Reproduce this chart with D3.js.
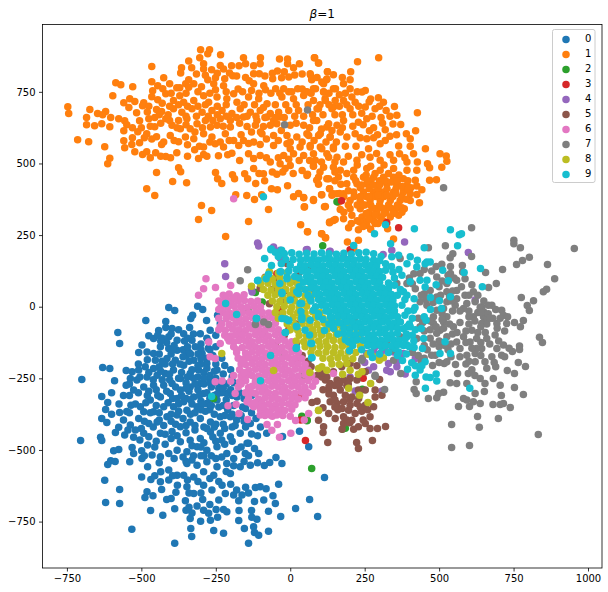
<!DOCTYPE html>
<html>
<head>
<meta charset="utf-8">
<script src="https://cdnjs.cloudflare.com/ajax/libs/d3/7.8.5/d3.min.js"></script>
<style>
  html, body { margin: 0; padding: 0; background: #fff; }
  svg { display: block; }
  text { font-family: "DejaVu Sans", sans-serif; fill: #000; }
</style>
</head>
<body>
<div id="chart"></div>
<script>
// values, one list per digit class
var labels = ["0","1","2","3","4","5","6","7","8","9"];
var colors = ["#1f77b4","#ff7f0e","#2ca02c","#d62728","#9467bd","#8c564b","#e377c2","#7f7f7f","#bcbd22","#17becf"];
var xTicks = [-750,-500,-250,0,250,500,750,1000];
var yTicks = [-750,-500,-250,0,250,500,750];

var points0 = [[-408,-3],[-388,-13],[-485,-48],[-311,2],[-294,-10],[-328,-30],[-334,-41],[-281,-48],[-244,-30],[-418,-52],[-338,-73],[-579,-90],[-573,-128],[-475,-101],[-442,-83],[-418,-73],[-397,-76],[-375,-80],[-358,-94],[-459,-111],[-498,-134],[-509,-160],[-481,-158],[-436,-140],[-408,-105],[-380,-117],[-330,-117],[-302,-94],[-269,-82],[-235,-59],[-319,-140],[-296,-163],[-408,-146],[-380,-152],[-459,-163],[-453,-187],[-414,-181],[-386,-187],[-487,-210],[-459,-216],[-630,-212],[-606,-216],[-590,-258],[-700,-254],[-551,-223],[-531,-227],[-509,-221],[-537,-251],[-551,-274],[-515,-256],[-481,-245],[-447,-239],[-420,-233],[-392,-221],[-358,-204],[-324,-187],[-280,-198],[-246,-221],[-308,-221],[-336,-233],[-369,-251],[-397,-268],[-425,-274],[-459,-274],[-492,-280],[-526,-291],
[-633,-313],[-613,-334],[-620,-359],[-633,-390],[-616,-404],[-573,-369],[-549,-366],[-535,-344],[-503,-349],[-470,-326],[-436,-315],[-403,-303],[-369,-291],[-336,-280],[-302,-268],[-268,-256],[-291,-303],[-324,-315],[-358,-332],[-392,-349],[-425,-349],[-459,-367],[-492,-367],[-509,-390],[-537,-413],[-576,-421],[-587,-439],[-556,-448],[-526,-456],[-492,-442],[-475,-408],[-447,-402],[-414,-384],[-380,-378],[-347,-361],[-313,-349],[-280,-338],[-246,-326],[-213,-303],[-179,-315],[-235,-384],[-268,-402],[-302,-390],[-336,-402],[-369,-419],[-397,-436],[-436,-442],[-475,-454],[-479,-483],[-499,-503],[-531,-491],[-526,-512],[-539,-541],[-576,-498],[-593,-503],[-637,-456],[-633,-467],[-704,-467],[-603,-538],[-613,-551],[-588,-540],
[-498,-530],[-464,-518],[-436,-524],[-408,-512],[-380,-501],[-347,-506],[-313,-489],[-280,-501],[-246,-489],[-213,-512],[-179,-498],[-145,-477],[-168,-442],[-201,-454],[-235,-442],[-268,-437],[-302,-460],[-336,-466],[-369,-471],[-130,-444],[-79,-442],[-106,-512],[-151,-512],[-134,-408],[-201,-384],[-140,-477],
[-479,-559],[-499,-594],[-468,-603],[-435,-576],[-408,-570],[-436,-611],[-408,-605],[-380,-588],[-358,-588],[-347,-547],[-313,-553],[-280,-541],[-246,-559],[-213,-547],[-201,-582],[-168,-559],[-134,-553],[-257,-588],[-291,-576],[-324,-594],[-623,-606],[-573,-638],[-620,-683],[-573,-687],[-481,-646],[-488,-666],[-461,-660],[-432,-638],[-384,-648],[-379,-623],[-347,-628],[-291,-623],[-263,-640],[-229,-623],[-218,-652],[-190,-657],[-162,-657],[-173,-677],[-117,-631],[-101,-628],[-81,-635],[-39,-620],[-58,-660],[-89,-675],[-50,-687],
[-415,-673],[-400,-669],[-352,-677],[-324,-652],[-294,-673],[-469,-711],[-428,-728],[-388,-705],[-350,-710],[-313,-696],[-291,-710],[-274,-721],[-249,-708],[-224,-708],[-213,-716],[-172,-711],[-130,-711],[-73,-714],[-32,-732],[-112,-742],[-129,-735],[-173,-746],[-244,-735],[-268,-745],[-301,-749],[-336,-739],[-532,-777],[-334,-774],[-257,-781],[-154,-774],[-123,-768],[-120,-788],[-73,-784],[-224,-791],[-331,-802],[-106,-798],[-388,-826],[-140,-826],[18,-704],[65,-673],[92,-732],[115,-596],[-28,-547],[-48,-526],[-69,-544],[-87,-554],[31,-435],[62,-489],[-26,-453],
[-330,-220],[-310,-245],[-290,-230],[-270,-240],[-250,-250],[-230,-260],[-290,-270],[-265,-280],[-240,-285],[-215,-270],[-200,-290],[-350,-265],[-320,-270],[-340,-295],[-310,-290],[-280,-300],[-255,-310],[-230,-300],[-380,-320],[-350,-320],[-200,-220],[-220,-205],[-250,-200],[-230,-180],[-260,-170],[-280,-180],[-250,-140],[-275,-120],[-300,-200],[-350,-170],[-365,-230],[-300,-330],[-270,-360],[-240,-350],[-210,-360],[-190,-345],[-160,-350],[-165,-380],[-130,-370],[-100,-420],[-255,-420],[-225,-410],[-195,-420],[-320,-370],[-285,-365],[-400,-400],[-360,-390],[-440,-370],[-490,-400],[-450,-290],[-480,-310],[-420,-200],[-440,-210],[-360,-150],[-340,-160],[-300,-130],[-345,-110],[-300,-490],[-325,-520],[-350,-540],[-290,-520],[-265,-520],[-230,-525],[-190,-530],[-140,-520],[-450,-470],[-420,-480],[-400,-460],[-350,-440],[-320,-430],[-290,-420],[-250,-470],[-220,-480],
[-430,-110],[-400,-95],[-355,-120],[-325,-95],[-280,-110],[-250,-100],[-415,-125],[-390,-135],[-345,-140],[-300,-150],[-275,-145],[-440,-165],[-400,-165],[-360,-175],[-335,-165],[-310,-165],[-270,-150],[-480,-185],[-430,-190],[-395,-200],[-370,-200],[-340,-190],[-300,-180],[-475,-230],[-435,-225],[-405,-235],[-375,-250],[-345,-245],[-310,-205],[-280,-215],[-255,-225],[-225,-235],[-195,-245],[-505,-245],[-460,-255],[-430,-255],[-405,-255],[-385,-280],[-350,-285],[-325,-250],[-290,-250],[-270,-265],[-245,-265],[-225,-285],[-190,-265],
[-510,-300],[-475,-295],[-445,-310],[-415,-295],[-395,-320],[-365,-310],[-335,-325],[-305,-310],[-270,-320],[-245,-305],[-215,-325],[-195,-310],[-170,-300],[-155,-320],[-130,-310],[-110,-330],[-520,-340],[-485,-335],[-450,-345],[-410,-335],[-375,-340],[-330,-340],[-295,-340],[-265,-345],[-225,-345],[-195,-375],[-150,-355],[-540,-370],[-470,-370],[-440,-395],[-400,-375],[-375,-365],[-335,-375],[-300,-360],[-255,-375],[-220,-380],[-180,-395],[-155,-400],[-115,-390],
[-500,-425],[-460,-420],[-425,-415],[-385,-410],[-350,-415],[-320,-415],[-280,-425],[-250,-410],[-220,-425],[-185,-415],[-150,-420],[-110,-450],[-505,-465],[-455,-490],[-420,-445],[-380,-450],[-330,-485],[-290,-475],[-260,-455],[-230,-465],[-195,-470],[-165,-490],[-120,-495],[-490,-520],[-440,-545],[-390,-530],[-360,-525],[-330,-535],[-300,-520],[-250,-530],[-215,-575],[-190,-555],[-155,-540],[-110,-545],[-455,-590],[-395,-590],[-345,-605],[-310,-610],[-270,-600],[-240,-610],[-200,-620],[-180,-640],[-150,-630],[-140,-650],[-120,-680],[-300,-650],[-270,-690],[-240,-675],[-340,-700],[-330,-720],[-340,-650],[-600,-300],[-575,-340],[-560,-310],[-540,-310],[-600,-375],[-560,-395],[-545,-430],[-520,-430],[-540,-270],[-510,-200],[-435,-120],[-395,-150],[-445,-100]];

var points1 = [[-747,698],[-744,674],[-714,583],[-677,576],[-623,558],[-606,518],[-613,499],[-673,688],[-647,674],[-620,681],[-630,670],[-684,660],[-684,635],[-657,632],[-633,639],[-606,628],[-603,660],[-576,656],[-596,736],[-586,782],[-569,775],[-529,768],[-559,712],[-539,726],[-522,716],[-542,695],[-516,677],[-492,712],[-496,701],[-465,838],[-465,785],[-425,799],[-405,778],[-445,771],[-462,754],[-428,761],[-465,733],[-445,722],[-418,743],[-449,688],[-432,681],[-475,656],[-455,660],[-418,656],[-506,649],[-556,649],[-549,635],[-559,614],[-512,611],[-559,579],[-556,555],[-532,566],[-522,541],[-496,531],[-482,541],[-452,537],[-506,572],[-482,604],[-455,628],[-449,593],[-432,566],[-418,524],[-402,520],[-381,537],[-375,485],[-368,471],[-449,468],[-395,437],[-348,433],[-482,412],[-455,388],[-298,353],[-264,336],[-308,304],[-217,245],[-140,297],[-73,339],[-183,391],[-146,388],[-120,374],[-96,391],[35,286],[58,262],[105,255],[119,241],[132,293],[151,304],[48,349],[115,349],[78,374],[11,384],[28,395],[45,381],[105,391],[-63,412],[-43,408],[-9,422],[-116,430],[-251,468],[-244,447],[-230,430],[-194,461],[-187,447],[-153,464],[-143,447],[-90,464],[-86,440],[-241,527],[-308,517],[-291,531],[-321,548],[-375,576],
[-301,897],[-271,897],[-277,883],[-304,869],[-234,879],[-341,858],[-365,834],[-331,834],[-368,816],[-157,869],[-100,869],[-36,865],[-9,865],[82,869],[95,851],[31,848],[-9,848],[11,834],[-291,848],[-291,830],[-264,827],[-235,842],[-224,830],[-197,841],[-172,841],[-150,848],[-123,841],[-101,848],[-104,813],[-43,823],[15,809],[-5,802],[-59,796],[-29,799],[68,809],[72,792],[125,820],[122,792],[112,778],[-204,816],[-193,806],[-220,796],[-251,799],[-277,792],[-123,813],[-138,789],[-123,778],[-341,792],[-351,778],[-324,778],[-341,766],[-298,768],[-381,764],[-371,764],[-257,778],[-251,757],[-224,771],[-160,750],[-190,743],[-89,771],[-83,757],[-49,761],[-22,761],[25,761],[-5,750],[56,750],[85,761],[112,750],[152,761],
[-371,736],[-392,720],[-358,714],[-324,720],[-291,736],[-274,714],[-246,732],[-213,726],[-179,714],[-140,732],[-106,726],[-78,708],[-28,732],[11,726],[45,737],[78,720],[117,726],[151,720],[-392,691],[-364,679],[-330,691],[-296,679],[-263,685],[-229,685],[-196,674],[-168,691],[-134,679],[-101,685],[-67,674],[-39,679],[-5,685],[28,685],[95,691],[140,691],[-375,650],[-347,656],[-313,639],[-285,650],[-235,656],[-201,650],[-157,662],[-112,650],[-78,662],[-56,650],[-34,662],[45,633],[89,650],[123,627],[157,633],[-397,633],[-369,621],[-336,621],[-268,627],[-246,633],[-201,627],[-145,629],[-117,633],[-90,629],[-67,633],[-45,639],[0,633],
[-403,598],[-352,592],[-324,586],[-291,604],[-263,592],[-218,604],[-190,580],[-157,580],[-123,575],[-95,604],[-56,598],[-11,598],[22,592],[56,604],[95,598],[134,592],[-291,557],[-252,569],[-224,557],[-173,563],[-101,566],[-56,563],[-11,569],[0,551],[33,557],[67,563],[101,557],[145,551],[-196,536],[-140,534],[-101,528],[-123,517],[-22,528],[11,534],[45,528],[78,534],[123,534],[157,522],[-67,505],[-34,499],[0,493],[-123,482],[78,490],[112,487],[145,487],[-17,482],[56,458],[89,441],[123,447],[162,453],[-45,462],[95,427],[132,412],[157,394],[140,389],
[81,869],[95,851],[226,855],[297,869],[125,820],[203,820],[67,813],[73,795],[106,784],[123,795],[179,778],[201,792],[50,749],[78,761],[112,749],[145,761],[201,761],[252,755],[241,749],[296,729],[207,732],[218,714],[118,720],[179,720],[313,714],[350,699],[285,691],[322,685],[252,697],[201,691],[145,697],[90,691],[358,668],[427,677],[257,656],[229,644],[179,650],[129,639],[78,650],[345,638],[371,636],[266,614],[319,618],[421,614],[390,604],[357,600],[293,600],[218,604],[168,610],[134,592],[101,604],[62,598],[403,586],[319,580],[257,586],[190,592],[364,561],[403,560],[454,551],[221,560],[302,569],[263,551],[145,557],[106,551],[67,557],[414,534],[367,534],[503,534],[524,526],[526,508],[509,487],[461,499],[468,485],[427,505],[392,505],[347,511],[302,511],[268,522],[224,511],[179,505],[129,522],[84,511],[78,491],
[425,476],[392,476],[347,482],[302,476],[257,482],[213,476],[168,476],[58,462],[95,452],[129,447],[170,427],[213,452],[246,452],[280,452],[313,452],[347,452],[380,447],[420,441],[468,441],[491,443],[425,421],[442,408],[392,423],[358,423],[324,429],[291,423],[257,429],[224,429],[190,429],[132,412],[106,391],[145,394],[179,394],[213,400],[246,400],[280,400],[313,400],[347,400],[380,400],[403,394],[425,392],[78,371],[45,380],[118,350],[162,365],[201,371],[235,371],[268,371],[302,371],[336,371],[369,371],[403,371],[434,363],[47,348],[168,339],[201,342],[235,342],[285,342],[319,342],[352,342],[383,342],[207,319],[179,307],[145,301],[132,296],[241,313],[274,313],[302,313],[336,313],[364,319],[196,276],[229,269],[257,284],[285,290],[311,301],[327,272],[106,255],[118,241],[58,262],[347,236],[192,226],[229,232],[213,203],
[255,460],[285,465],[330,465],[300,440],[270,440],[235,415],[265,412],[295,412],[325,412],[355,412],[255,385],[285,385],[315,385],[345,385],[375,385],[250,355],[270,355],[300,355],[330,355],[360,355],[265,330],[290,330],[320,330],[350,330],[255,300],[280,300],[235,295],[375,345],[390,375],
[-315,812],[-285,808],[-245,815],[-180,805],[-150,800],[-85,805],[-60,815],[-20,820],[40,812],[90,800],[145,810],[175,800],[-400,745],[-350,745],[-310,750],[-270,745],[-215,750],[-175,760],[-130,755],[-105,745],[-65,745],[-35,745],[5,750],[40,760],[70,745],[130,745],[165,740],[185,745],[225,750],[270,725],[-475,700],[-430,710],[-405,700],[-375,705],[-345,700],[-310,700],[-285,705],[-245,700],[-215,705],[-155,705],[-120,705],[-90,695],[-50,705],[-15,705],[20,705],[60,705],[100,705],[130,705],[165,700],[190,705],[230,700],[265,715],[300,700],
[-480,680],[-440,670],[-410,670],[-350,665],[-315,665],[-275,665],[-245,670],[-215,665],[-180,660],[-145,665],[-115,665],[-85,660],[-50,660],[-20,660],[15,665],[45,665],[75,670],[110,670],[150,670],[175,670],[210,670],[240,675],[275,665],[305,660],[335,665],[-530,625],[-500,625],[-470,630],[-435,640],[-405,650],[-380,625],[-350,635],[-320,610],[-295,625],[-260,650],[-225,630],[-170,640],[-130,610],[-100,610],[-30,615],[20,640],[65,625],[105,620],[140,615],[175,625],[210,630],[245,635],[280,625],[310,640],
[-530,590],[-490,590],[-465,585],[-425,575],[-390,580],[-345,565],[-305,560],[-270,575],[-235,575],[-205,580],[-165,600],[-140,570],[-80,585],[-40,580],[0,575],[40,575],[80,580],[120,575],[155,575],[185,560],[235,590],[280,590],[335,595],[-470,520],[-435,525],[-345,525],[-280,525],[-210,530],[-170,510],[-80,520],[-40,520],[-5,515],[30,510],[65,510],[105,505],[150,505],[195,525],[240,530],[290,535],[335,530],[385,520],[-105,465],[-60,470],[-25,470],[10,465],[40,475],[100,470],[150,470],[190,465],[225,495],[270,490],[315,495],[365,460],
[220,440],[240,425],[260,440],[280,425],[300,425],[320,440],[340,435],[360,440],[375,420],[395,440],[405,415],[215,385],[235,385],[265,385],[295,390],[325,390],[355,395],[395,410],[225,355],[245,355],[275,345],[305,345],[335,345],[365,345],[255,325],[285,320],[315,325],[345,325],[375,330],[265,305],[295,290],[320,295],[245,280],[270,270],[205,290],[225,300],[180,330],[195,355],[180,385],[195,405],[165,395],[150,440]];

var points2 = [[109,213],[157,366],[-257,-320],[72,-565],[56,-398],[39,-382],[-94,16],[-141,-16],[-117,50],[-47,-33],[-23,-162],[7,-148],[-90,-93],[242,-288],[185,-424],[40,-239],[176,-427],[57,-396]];

var points3 = [[172,370],[364,276],[324,293],[201,199],[179,173],[51,-467],[-45,115],[-30,-10],[20,-190],[60,-250],[30,-310],[175,-60],[215,-40],[-5,-80],[35,-395],[245,-250],[-95,-40]];

var points4 = [[-110,222],[-106,212],[-220,150],[-217,105],[-56,208],[-128,51],[-34,197],[-23,187],[-34,169],[57,200],[134,194],[178,173],[54,199],[132,193],[312,182],[341,197],[384,226],[598,189],[621,23],[336,-227],[324,-222],[386,-235],[369,-175],[302,-163],[280,-157],[280,-210],[263,-222],[218,-294],[308,-294],[420,-181],[252,-82],[274,-70],[347,-158],[319,-152],[380,-163],[201,-245],[302,-134],[330,-198],[358,-210],[358,-192],[285,-140],[324,-117],[257,-163],[-130,62],[250,-195]];

var points5 = [[118,-256],[106,-245],[134,-268],[157,-256],[179,-256],[201,-251],[224,-256],[129,-291],[145,-309],[168,-291],[185,-309],[207,-315],[229,-291],[252,-291],[285,-315],[308,-309],[285,-291],[300,-254],[134,-332],[157,-338],[179,-332],[201,-344],[224,-338],[252,-344],[280,-349],[174,-355],[196,-361],[218,-373],[179,-384],[207,-396],[268,-384],[252,-408],[179,-408],[174,-428],[213,-428],[229,-419],[268,-425],[293,-425],[320,-418],[129,-373],[151,-390],[95,-396],[112,-419],[110,-439],[73,-334],[90,-330],[110,-353],[126,-474],[223,-474],[276,-467],[229,-495],[101,-222],[123,-245],[145,-227],[173,-210],[201,-198],[224,-206],[252,-227],[-101,64],[-84,103],[-60,60],[-30,20],[10,30],[-70,10],[-40,-30],[20,-60],[-20,-100],[20,-130],[-50,-130],[40,-170],[-10,150],[30,120],[60,140],[10,90],[80,50],[70,-210],[90,-240],[150,-275],[190,-275],[230,-320],[160,-360],[240,-365],[110,-230],[60,-190],[-55,95],[-20,55],[130,-280],[165,-270],[195,-270],[150,-325],[200,-325],[235,-350],[260,-360],[190,-395],[245,-395],[150,-350],[200,-405],[130,-305],[110,-290]];

var points6 = [[-308,40],[-283,98],[-291,63],[-251,67],[-200,74],[-190,377],[-274,-123],[-235,-128],[-269,-175],[-252,-181],[-252,-262],[-229,-259],[-185,-303],[-209,-346],[-182,-341],[-172,-373],[-143,-394],[-78,-411],[-43,-411],[-62,-431],[-36,-456],[2,-442],[18,-397],[47,-395],[62,-373],[-28,-361],[-67,-378],[-101,-378],[-123,-349],[-145,-332],[145,-233],
[-225,40],[-205,44],[-180,38],[-155,42],[-240,20],[-220,22],[-198,18],[-176,20],[-154,22],[-132,18],[-110,20],[-232,0],[-210,-2],[-188,2],[-166,0],[-144,-2],[-122,2],[-100,0],[-225,-20],[-205,-22],[-183,-18],[-160,-20],[-138,-22],[-116,-18],[-94,-20],[-72,-22],[-240,-40],[-215,-42],[-194,-38],[-172,-40],[-150,-42],[-128,-38],[-106,-40],[-84,-42],[-62,-38],[-230,-60],[-205,-62],[-183,-58],[-161,-60],[-139,-62],[-117,-58],[-95,-60],[-73,-62],[-50,-58],[-240,-80],[-218,-82],[-194,-78],[-172,-80],[-150,-82],[-128,-78],[-106,-80],[-84,-82],[-62,-78],[-40,-80],[-220,-100],[-200,-102],[-183,-98],[-161,-100],[-139,-102],[-117,-98],[-95,-100],[-73,-102],[-50,-98],[-28,-100],[-205,-120],[-190,-122],[-172,-118],[-150,-120],[-128,-122],[-106,-118],[-84,-120],[-62,-122],[-40,-118],[-18,-120],[5,-122],[-190,-140],[-161,-142],[-139,-138],[-117,-140],[-95,-142],[-73,-138],[-50,-140],[-28,-142],[-6,-138],[16,-140],[-180,-160],[-150,-162],[-128,-158],[-106,-160],[-84,-162],[-62,-158],[-40,-160],[-18,-162],[5,-158],[27,-160],[-175,-180],[-155,-182],[-139,-178],[-117,-180],[-95,-182],[-73,-178],[-50,-180],[-28,-182],[-6,-178],[16,-180],[38,-182],[-165,-200],[-150,-202],[-128,-198],[-106,-200],[-84,-202],[-62,-198],[-40,-200],[-18,-202],[5,-198],[27,-200],[50,-202],[-170,-220],[-139,-222],[-117,-218],[-95,-220],[-73,-222],[-50,-218],[-28,-220],[-6,-222],[16,-218],[38,-220],[60,-222],[-190,-240],[-165,-242],[-145,-238],[-128,-240],[-106,-242],[-84,-238],[-62,-240],[-40,-242],[-18,-238],[5,-240],[27,-242],[50,-238],[72,-240],[-200,-260],[-170,-262],[-150,-258],[-117,-260],[-95,-262],[-73,-258],[-50,-260],[-28,-262],[-6,-258],[16,-260],[38,-262],[60,-258],[85,-260],[-175,-280],[-140,-282],[-128,-278],[-106,-280],[-84,-282],[-62,-278],[-40,-280],[-18,-282],[5,-278],[27,-280],[50,-282],[75,-278],[-150,-300],[-117,-302],[-95,-298],[-73,-300],[-50,-302],[-28,-298],[-6,-300],[16,-302],[38,-298],[60,-300],[-140,-320],[-106,-322],[-84,-318],[-62,-320],[-40,-322],[-18,-318],[5,-320],[27,-322],[50,-318],[-130,-340],[-110,-342],[-95,-338],[-73,-340],[-50,-342],[-28,-338],[-6,-340],[16,-342],[-100,-360],[-84,-362],[-62,-358],[-40,-360],[-18,-362],[5,-358],[-85,-380],[-60,-382],[-45,-378],[-25,-380],[0,-382],
[-215,30],[-190,30],[-165,30],[-240,-10],[-215,-30],[-235,-70],[-210,-110],[-180,-150],[-160,-190],[-155,-230],[-165,-270],[-130,-300],[-120,-335],[-90,-350],[-70,-370]];

var points7 = [[609,276],[521,213],[464,206],[546,185],[537,171],[609,175],[751,232],[751,220],[773,206],[954,203],[803,173],[780,161],[760,147],[864,147],[509,148],[538,140],[578,144],[656,119],[713,130],[538,116],[587,98],[610,77],[579,121],[692,81],[666,67],[888,98],[861,61],[850,52],[776,32],[817,21],[796,4],[803,-13],[837,-107],[847,-125],[783,-48],[753,-55],[773,-70],[770,-137],[770,-149],[746,-156],[766,-195],[790,-209],[729,-223],[753,-233],[753,-282],[783,-306],[709,-310],[739,-352],[699,-390],[681,-341],[705,-341],[716,-338],[629,-383],[542,-411],[635,-421],[833,-446],[542,-491],[602,-484],[565,-348],[602,-348],[582,-320],[593,-326],[638,-338],[615,-332],[621,-303],[652,-296],[705,-274],[682,-251],[654,-268],[638,-251],[598,-233],[562,-233],[537,-265],[559,-268],[593,-268],[515,-299],[498,-303],[492,-318],[464,-320],[423,-303],[416,-289],[423,-262],[371,-233],[478,-205],[555,-202],[517,-198],[526,-192],[487,-169],[570,-175],[593,-169],[621,-192],[654,-192],[677,-175],[710,-169],[716,-134],[694,-146],[643,-146],[621,-163],[626,-146],[604,-123],[582,-105],[559,-123],[570,-146],[526,-105],[548,-70],[503,-82],[626,-111],[660,-111],[688,-99],[610,-82],[694,-59],[727,-59],[710,-12],[716,-30],[649,-35],[643,0],[677,5],[615,-35],[582,-6],[554,5],[526,-35],[515,-53],[481,-59],[492,-93],[436,-70],[425,-111],[475,-169],[481,-35],[459,5],[436,17],[470,57],[492,34],[526,52],[559,57],[587,40],[615,52],[621,17],[593,11],[559,28],[526,17],[515,-6],[492,-12],[420,63],[436,116],[392,81],[358,81],[492,104],[526,81],[559,92],[369,168],[347,-152],[347,-187],[324,-128],[369,-105],[268,-117],[240,-187],[285,-239],[317,-289],[638,-3],[649,-18],[660,-47],[643,-59],[58,687],[-19,635],[-143,129],[-168,91],[515,415],[-117,-62],[-89,-53],[-73,-62],[242,-180],[285,-243],[245,-117],[500,70],[470,30],[450,45],[510,-25],[540,20],[600,-15],[630,-20],[665,-25],[660,-60],[680,-40],[640,-70],[600,-60],[570,-55],[545,-95],[510,-125],[470,-110],[450,-135],[500,-140],[530,-150],[590,-200],[610,-220],[660,-215],[690,-210],[620,-240],[440,-190],[410,-160],
[440,40],[455,25],[480,15],[505,40],[535,35],[545,55],[575,70],[600,40],[630,40],[650,20],[665,5],[690,-10],[705,-40],[730,-35],[670,-40],[695,-75],[720,-85],[640,-20],[620,-50],[600,-35],[570,-15],[545,-15],[510,-45],[490,-70],[470,-80],[445,-55],[430,-40],[450,-85],[470,-50],[515,-75],[535,-60],[560,-90],[590,-85],[630,-90],[655,-90],[670,-130],[700,-120],[640,-125],[610,-145],[590,-125],[540,-130],[520,-135],[500,-120],[480,-130],[460,-150],[430,-170],[450,-180],[500,-195],[540,-175],[600,-190],[640,-170],[685,-195],[720,-175],[735,-145],[400,100],[415,115],[450,130],[475,125],[490,140],[510,90],[530,110],[550,100],[410,80]];

var points8 = [[-230,-163],[-56,-223],[95,-362],[-130,71],[66,-230],[95,-216],[106,-210],[123,-222],[176,-236],[201,-222],[229,-236],[241,-227],[270,-268],[196,-285],[233,-309],[261,-334],[95,-361],[236,-138],[261,-166],[280,-175],[299,-187],[313,-178],[212,-99],
[-70,122],[-40,118],[-10,120],[-85,100],[-60,98],[-35,102],[-10,100],[15,98],[-100,80],[-75,82],[-50,78],[-25,80],[0,82],[25,78],[-90,60],[-65,58],[-40,62],[-15,60],[10,58],[35,62],[60,60],[-75,40],[-50,42],[-25,38],[0,40],[25,42],[50,38],[75,40],[-60,20],[-35,18],[-10,22],[15,20],[40,18],[65,22],[-45,0],[-20,2],[5,-2],[30,0],[55,2],[-50,-20],[-25,-22],[0,-18],[25,-20],[50,-22],[75,-18],[100,-20],[-40,-40],[-15,-42],[10,-38],[35,-40],[60,-42],[85,-38],[110,-40],[135,-42],[160,-38],[-10,-60],[15,-62],[40,-58],[65,-60],[90,-62],[115,-58],[140,-60],[165,-62],[190,-58],[215,-60],[0,-80],[25,-82],[50,-78],[75,-80],[100,-82],[125,-78],[150,-80],[175,-82],[200,-78],[225,-80],[30,-100],[55,-102],[80,-98],[105,-100],[130,-102],[155,-98],[180,-100],[205,-102],[230,-98],[20,-120],[45,-122],[70,-118],[95,-120],[120,-122],[145,-118],[170,-120],[195,-122],[220,-118],[50,-140],[75,-142],[100,-138],[125,-140],[150,-142],[175,-138],[200,-140],[70,-160],[95,-162],[120,-158],[145,-160],[170,-162],[195,-158],[220,-160],[110,-180],[135,-182],[160,-178],[185,-180],[210,-182],[140,-200],[165,-202],[190,-198]];

var points9 = [[417,272],[538,269],[568,251],[575,255],[562,213],[450,206],[337,220],[283,255],[320,286],[213,214],[-90,384],[-65,199],[-86,168],[-63,144],[-108,92],[-73,113],[-81,98],[-31,122],[-11,104],[-29,197],[639,133],[584,119],[645,70],[531,91],[512,127],[490,77],[459,156],[470,156],[453,150],[427,162],[403,174],[425,139],[392,150],[364,180],[341,174],[403,87],[436,92],[459,92],[453,69],[380,52],[392,40],[416,28],[538,35],[501,21],[471,32],[508,-6],[471,-10],[419,-3],[414,-12],[450,-35],[456,-47],[440,-76],[392,-70],[403,-70],[448,-111],[520,-122],[444,-146],[416,-142],[503,-163],[538,-163],[392,-105],[392,-134],[364,-158],[352,-146],[308,-142],[277,-134],[199,-154],[196,-123],[377,-188],[408,-196],[420,-206],[394,-218],[436,-221],[453,-192],[442,-206],[420,-239],[456,-245],[470,-247],[490,-235],[492,-259],[454,-285],[603,-285],[276,-177],[115,-83],[72,-128],[65,-99],[72,-177],
[-264,-313],[-217,11],[-180,-27],[-66,-170],[-100,-258],[-114,-41],[-17,-90],[-5,-47],[-28,-41],[20,-146],[69,-128],[73,-178],[22,-70],[50,-82],[33,11],[0,23],[67,-47],[39,-36],[-28,46],[28,46],[-113,-41],[-110,91],[-64,201],[-35,81],[-28,50],[38,11],[36,-17],[-16,-43],[-6,-49],[21,-68],[-16,-90],[21,-142],[-34,122],[-11,98],[22,52],[67,29],[78,-12],[39,-45],[95,-35],[140,-53],[179,-93],[201,-122],[212,-111],
[-20,185],[5,188],[30,183],[55,187],[80,184],[105,188],[130,185],[155,183],[180,187],[205,184],[230,188],[10,165],[35,163],[55,167],[75,165],[95,163],[115,167],[135,165],[155,163],[175,167],[195,165],[215,163],[235,167],[255,165],[280,163],[35,145],[50,143],[70,147],[90,145],[110,143],[130,147],[150,145],[170,143],[190,147],[210,145],[230,143],[250,147],[270,145],[290,143],[40,125],[60,123],[80,127],[100,125],[120,123],[140,127],[160,125],[180,123],[200,127],[220,125],[240,123],[260,127],[280,125],[300,123],[320,127],[55,105],[70,103],[90,107],[110,105],[130,103],[150,107],[170,105],[190,103],[210,107],[230,105],[250,103],[270,107],[290,105],[310,103],[65,85],[80,83],[100,87],[120,85],[140,83],[160,87],[180,85],[200,83],[220,87],[240,85],[260,83],[280,87],[300,85],[330,83],[70,65],[90,63],[110,67],[130,65],[150,63],[170,67],[190,65],[210,63],[230,67],[250,65],[270,63],[290,67],[310,65],[330,63],[85,45],[100,43],[120,47],[140,45],[160,43],[180,47],[200,45],[220,43],[240,47],[260,45],[280,43],[300,47],[320,45],[340,43],[95,25],[110,23],[130,27],[150,25],[170,23],[190,27],[210,25],[230,23],[250,27],[270,25],[290,23],[310,27],[330,25],[345,23],[105,5],[120,3],[140,7],[160,5],[180,3],[200,7],[220,5],[240,3],[260,7],[280,5],[300,3],[320,7],[340,5],[350,3],[120,-15],[130,-17],[150,-13],[170,-15],[190,-17],[210,-13],[230,-15],[250,-17],[270,-13],[290,-15],[310,-17],[330,-13],[350,-15],[135,-35],[140,-37],[160,-33],[180,-35],[200,-37],[220,-33],[240,-35],[260,-37],[280,-33],[300,-35],[320,-37],[340,-33],[360,-35],[160,-55],[170,-57],[190,-53],[210,-55],[230,-57],[250,-53],[270,-55],[290,-57],[310,-53],[330,-55],[350,-57],[370,-53],[180,-75],[200,-77],[220,-73],[240,-75],[260,-77],[280,-73],[300,-75],[320,-77],[340,-73],[360,-75],[380,-77],[200,-95],[220,-97],[240,-93],[260,-95],[280,-97],[300,-93],[320,-95],[340,-97],[360,-93],[390,-95],[225,-115],[245,-117],[265,-113],[285,-115],[305,-117],[325,-113],[345,-115],[365,-117],[385,-113],[260,-135],[280,-137],[300,-133],[320,-135],[340,-137],[360,-133],[380,-135],
[-50,190],[-40,175],[-15,165],[-30,150],[0,145],[20,130],[-5,125],[15,105],[30,100],[45,85],[30,70],[50,60],[60,40],[70,20],[85,0],[95,-25],[110,-45],[130,-60],[145,-75],[160,-95],[185,-115],[210,-135],[240,-150],[270,-160],[300,-165],[330,-160],[360,-170],[390,-165],[255,190],[280,185],[305,175],[300,160],[320,150],[340,140],[345,120],[365,130],[350,100],[375,110],[350,75],[370,60],[360,40],[385,25],[375,5],[395,-15],[385,-30],[410,-40],[400,-60],[420,-80],[410,-100],[415,-120],[400,-140]];

var allPoints = [points0,points1,points2,points3,points4,points5,points6,points7,points8,points9];

var margin = {top: 24.5, right: 6, bottom: 24, left: 42.5},
    width = 608 - margin.left - margin.right,
    height = 592 - margin.top - margin.bottom;

// limits picked so that ticks land where they do in the picture
var x = d3.scaleLinear().domain([-832, 1047]).range([0, width]);
var y = d3.scaleLinear().domain([-912, 985]).range([height, 0]);

var svg = d3.select("#chart").append("svg")
    .attr("width", 608)
    .attr("height", 592);

var plot = svg.append("g")
    .attr("transform", "translate(" + margin.left + "," + margin.top + ")");

// one group per digit, later digits sit on top
allPoints.forEach(function(pts, i) {
  plot.append("g")
    .attr("fill", colors[i])
    .selectAll("circle")
    .data(pts)
    .enter().append("circle")
    .attr("cx", function(d) { return x(d[0]); })
    .attr("cy", function(d) { return y(d[1]); })
    .attr("r", 3.75);
});

var xAxis = plot.append("g")
    .attr("transform", "translate(0," + height + ")")
    .call(d3.axisBottom(x).tickValues(xTicks).tickFormat(d3.format("d")).tickSize(3.5).tickPadding(3.5).tickSizeOuter(0));
var yAxis = plot.append("g")
    .call(d3.axisLeft(y).tickValues(yTicks).tickFormat(d3.format("d")).tickSize(3.5).tickPadding(3.5).tickSizeOuter(0));

[xAxis, yAxis].forEach(function(a) {
  a.select(".domain").remove();
  a.selectAll("line").attr("stroke", "#000").attr("stroke-width", 0.8);
  a.selectAll("text").attr("font-size", 10).attr("font-family", "DejaVu Sans");
});

plot.append("rect")
    .attr("width", width)
    .attr("height", height)
    .attr("fill", "none")
    .attr("stroke", "#000")
    .attr("stroke-width", 0.8);

var title = svg.append("text")
    .attr("x", margin.left + width / 2)
    .attr("y", 18)
    .attr("text-anchor", "middle")
    .attr("font-size", 12);
title.append("tspan").attr("font-style", "italic").text("β");
title.append("tspan").text("=1");

var legend = svg.append("g");
legend.append("rect")
    .attr("x", 552.5)
    .attr("y", 29.5)
    .attr("width", 42.5)
    .attr("height", 153)
    .attr("rx", 2)
    .attr("fill", "#fff")
    .attr("fill-opacity", 0.8)
    .attr("stroke", "#ccc")
    .attr("stroke-width", 1);

labels.forEach(function(l, i) {
  var ly = 39.5 + i * 15;
  legend.append("circle").attr("cx", 566).attr("cy", ly).attr("r", 3.75).attr("fill", colors[i]);
  legend.append("text").attr("x", 585).attr("y", ly + 2.5).attr("font-size", 10).text(l);
});
</script>
</body>
</html>
